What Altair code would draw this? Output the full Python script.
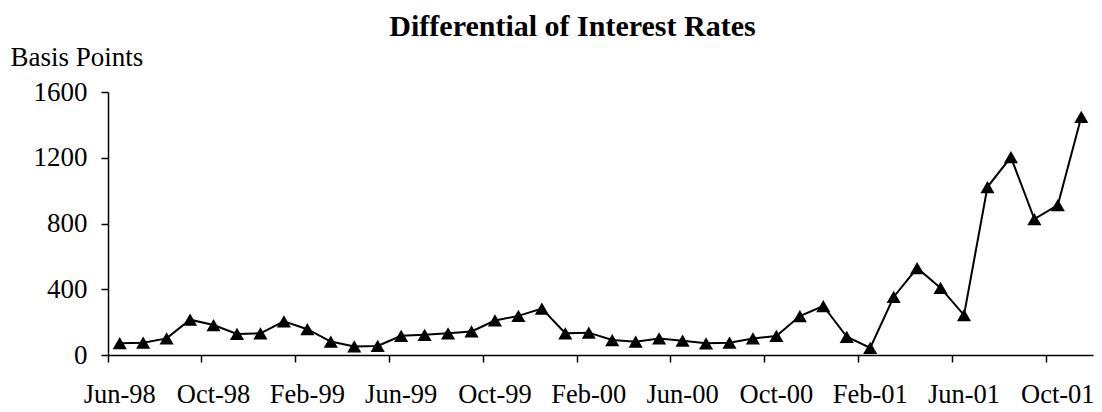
import altair as alt
import pandas as pd

months = [
    "Jun-98", "Jul-98", "Aug-98", "Sep-98", "Oct-98", "Nov-98", "Dec-98",
    "Jan-99", "Feb-99", "Mar-99", "Apr-99", "May-99", "Jun-99", "Jul-99",
    "Aug-99", "Sep-99", "Oct-99", "Nov-99", "Dec-99",
    "Jan-00", "Feb-00", "Mar-00", "Apr-00", "May-00", "Jun-00", "Jul-00",
    "Aug-00", "Sep-00", "Oct-00", "Nov-00", "Dec-00",
    "Jan-01", "Feb-01", "Mar-01", "Apr-01", "May-01", "Jun-01", "Jul-01",
    "Aug-01", "Sep-01", "Oct-01", "Nov-01",
]
basis_points = [
    72, 75, 101, 215, 182, 128, 132,
    205, 157, 82, 52, 55, 117, 123,
    132, 143, 210, 238, 282,
    132, 136, 91, 81, 101, 87, 71,
    75, 101, 116, 237, 298,
    111, 43, 353, 529, 408, 243, 1022,
    1204, 827, 912, 1448,
]
x_tick_labels = ["Jun-98", "Oct-98", "Feb-99", "Jun-99", "Oct-99", "Feb-00",
                 "Jun-00", "Oct-00", "Feb-01", "Jun-01", "Oct-01"]
y_ticks = [0, 400, 800, 1200, 1600]

df = pd.DataFrame({"month": months, "bp": basis_points})

FONT = "Liberation Serif"

x_enc = alt.X(
    "month:N",
    sort=months,
    bandPosition=0.5,
    scale=alt.Scale(type="band", paddingInner=0, paddingOuter=0),
    axis=alt.Axis(
        values=x_tick_labels,
        bandPosition=0,
        labelAngle=0,
        tickSize=7,
        tickWidth=1.5,
        domainWidth=1.5,
        labelPadding=19,
        labelFontSize=26.5,
        labelFont=FONT,
        labelColor="black",
        domainColor="black",
        tickColor="black",
        title=None,
    ),
)
y_enc = alt.Y(
    "bp:Q",
    scale=alt.Scale(domain=[0, 1600], nice=False),
    axis=alt.Axis(
        values=y_ticks,
        format="d",
        tickSize=7,
        tickWidth=1.5,
        domainWidth=1.5,
        labelPadding=14,
        labelFontSize=27,
        labelFont=FONT,
        labelColor="black",
        domainColor="black",
        tickColor="black",
        title="Basis Points",
        titleAngle=0,
        titleAlign="left",
        titleBaseline="alphabetic",
        titleX=-98,
        titleY=-27,
        titleFont=FONT,
        titleFontSize=27,
        titleFontWeight="normal",
        titleColor="black",
    ),
)

base = alt.Chart(df).encode(x=x_enc, y=y_enc)
line = base.mark_line(color="black", strokeWidth=2)
pts = base.mark_point(shape="triangle-up", size=200, filled=True, color="black", opacity=1)

chart = (
    alt.layer(line, pts)
    .properties(
        width=985,
        height=263,
        autosize=alt.AutoSizeParams(type="none"),
        padding={"left": 100, "top": 84, "right": 1, "bottom": 53},
        title=alt.TitleParams(
            "Differential of Interest Rates",
            font=FONT,
            fontSize=30,
            fontWeight="bold",
            color="black",
            anchor="middle",
            dx=-28,
            dy=3,
        ),
    )
    .configure_view(stroke=None)
    .configure_axis(grid=False)
)

chart.save("out.html", embed_options={"renderer": "svg", "actions": False})
